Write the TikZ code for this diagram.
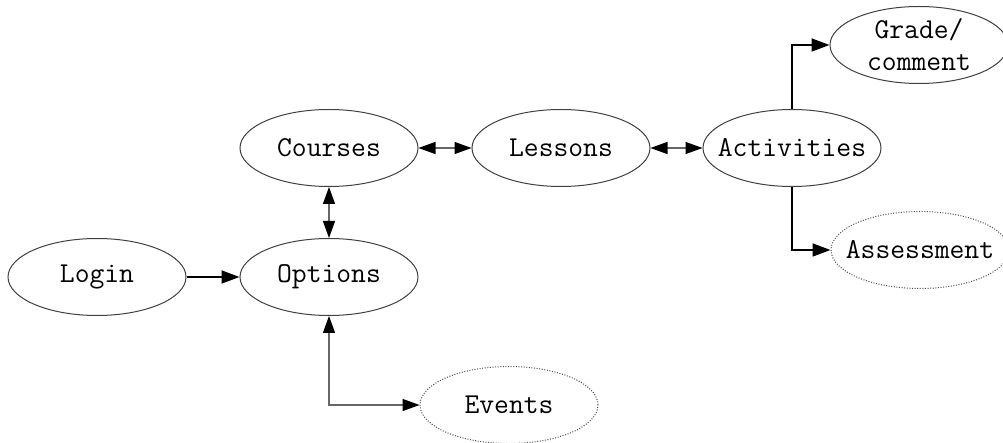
\documentclass[tikz,border=0pt]{standalone}
\usepackage{fontspec}
\usetikzlibrary{arrows.meta, shapes.geometric}

\tikzset{
    screen/.style={draw=black!75, ellipse, minimum width=89pt, minimum height=38.5pt,
        inner xsep=-30pt, inner ysep=-4pt, align=center, line width=0.5pt,
        font=\ttfamily\fontsize{14.4}{16}\selectfont},
    planned/.style={screen, draw=black!70, dash pattern=on 0.5pt off 0.8pt},
    link/.style={-{Triangle[length=9pt, width=6.5pt]}, line width=0.9pt},
    twoway/.style={{Triangle[length=8.5pt, width=6pt, color=black]}-{Triangle[length=8.5pt, width=6pt, color=black]},
        draw=black!60, line width=0.6pt},
}

\begin{document}
\begin{tikzpicture}[x=0.5pt, y=0.5pt]
    \useasboundingbox (0, 0) rectangle (1003, -443);

    \node[screen] (login) at (97, -277) {Login};
    \node[screen] (opt) at (329, -277) {Options};
    \node[screen] (courses) at (329, -148) {Courses};
    \node[screen] (lessons) at (561, -148) {Lessons};
    \node[screen] (act) at (792, -148) {Activities};
    \node[screen] (grade) at (919, -45) {Grade/\\comment};
    \node[planned] (assess) at (920, -250) {Assessment};
    \node[planned] (events) at (509, -405) {Events};

    \draw[link] (login) -- (opt);
    \draw[twoway] (courses) -- (opt);
    \draw[twoway] (courses) -- (lessons);
    \draw[twoway] (lessons) -- (act);
    \draw[twoway] (opt.south) |- (events.west);

    \draw[link] (act.north) |- (grade.west);
    \draw[link] (act.south) |- (assess.west);
\end{tikzpicture}
\end{document}
